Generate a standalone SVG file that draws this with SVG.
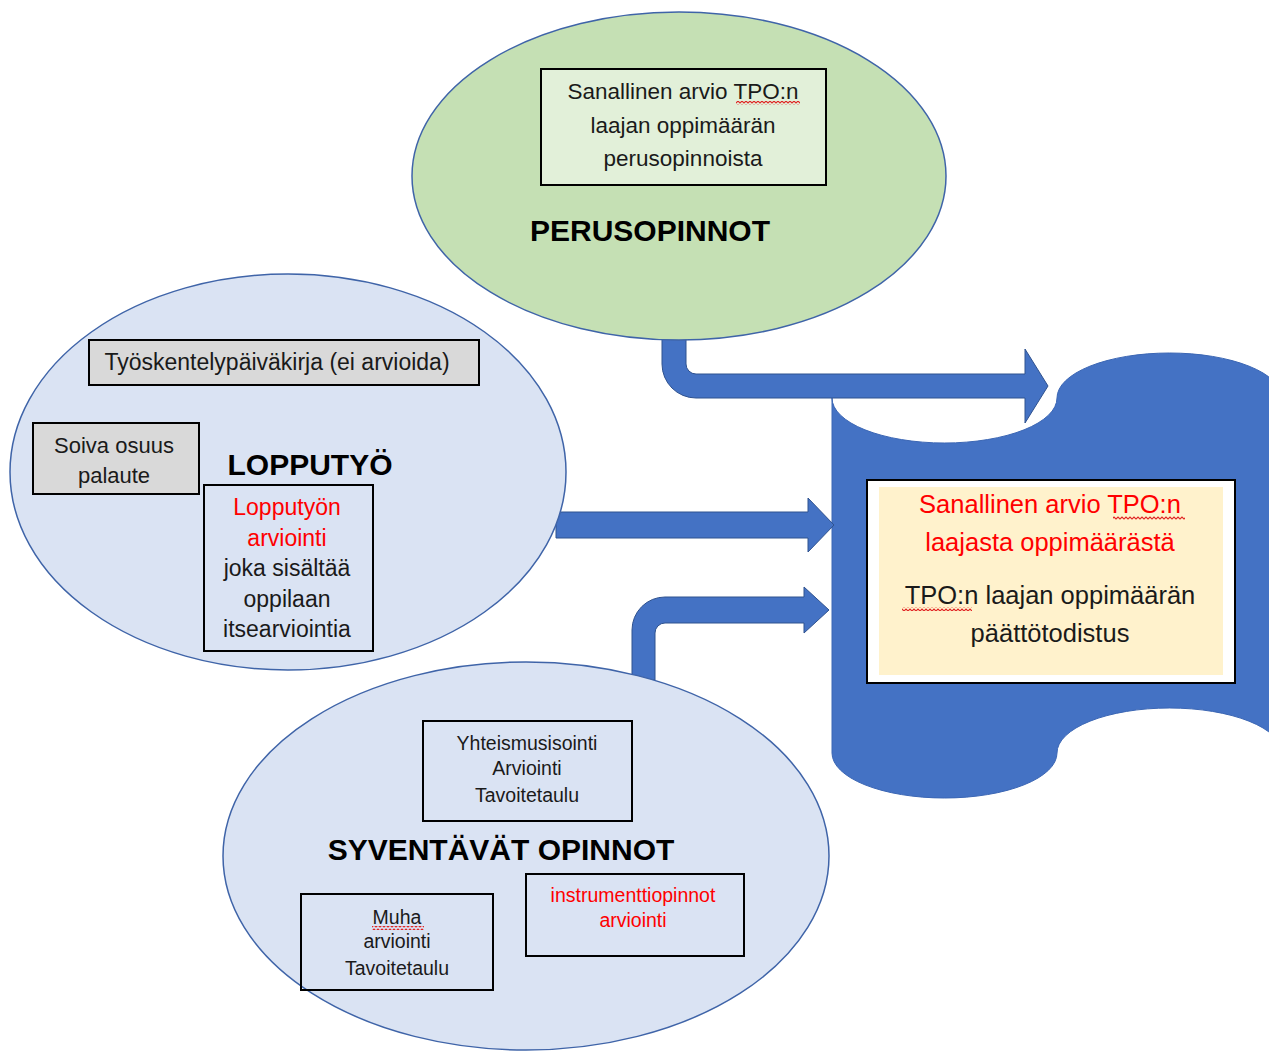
<svg xmlns="http://www.w3.org/2000/svg" width="1269" height="1052" viewBox="0 0 1269 1052">
<defs>
<style>
text{font-family:"Liberation Sans",Arial,sans-serif;fill:#1a1a1a;text-anchor:middle}
.h{font-weight:bold;font-size:30px;fill:#000}
.red{fill:#ff0000}
.ell{stroke:#3F64A8;stroke-width:1.5}
.box{stroke:#000;stroke-width:2}
.gray{fill:#D9D9D9}
.arrow{fill:#4472C4;stroke:#2F528F;stroke-width:1}
</style>
<pattern id="sq" width="4" height="4" patternUnits="userSpaceOnUse"><path d="M-2,1 L0,3 L2,1 L4,3 L6,1" fill="none" stroke="#e02020" stroke-width="1.2"/></pattern>
</defs>
<rect width="1269" height="1052" fill="#fff"/>

<g id="paattotodistus">
<path d="M832,398 A112.5,45 0 0 0 1057,398 A112.5,45 0 0 1 1282,398 L1282,753 A112.5,45 0 0 0 1057,753 A112.5,45 0 0 1 832,753 Z" fill="#4472C4" stroke="#3B66B4" stroke-width="1"/>
<rect x="867" y="480" width="368" height="203" fill="#fff" class="box"/>
<rect x="879" y="487" width="344" height="188" fill="#FFF2CC"/>
<text x="1050" y="513" font-size="25.5" class="red">Sanallinen arvio TPO:n</text>
<text x="1050" y="551" font-size="25.5" class="red">laajasta oppimäärästä</text>
<text x="1050" y="604" font-size="25.5">TPO:n laajan oppimäärän</text>
<text x="1050" y="642" font-size="25.5">päättötodistus</text>
<rect x="1113" y="516" width="72" height="4" fill="url(#sq)"/>
<rect x="902" y="607" width="70" height="4" fill="url(#sq)"/>
</g>

<g id="connectors">
<path class="arrow" d="M662,336 L662,364 A34,34 0 0 0 696,398 L1025,398 L1025,423 L1048,386 L1025,349 L1025,374 L696,374 A10,10 0 0 1 686,364 L686,336 Z"/>
<path class="arrow" d="M556,512 L808,512 L808,498 L834,525 L808,552 L808,538 L556,538 Z"/>
<path class="arrow" d="M632,680 L632,630 A33,33 0 0 1 665,597 L804,597 L804,587 L829,610 L804,633 L804,623 L665,623 A10,10 0 0 0 655,633 L655,680 Z"/>
</g>

<g id="perusopinnot">
<ellipse cx="679" cy="176" rx="267" ry="164" fill="#C5E0B4" class="ell"/>
<rect x="541" y="69" width="285" height="116" fill="#E2F0D9" class="box"/>
<text x="683" y="99" font-size="22.5">Sanallinen arvio TPO:n</text>
<text x="683" y="133" font-size="22.5">laajan oppimäärän</text>
<text x="683" y="166" font-size="22.5">perusopinnoista</text>
<rect x="736" y="101" width="64" height="4" fill="url(#sq)"/>
<text x="650" y="241" class="h">PERUSOPINNOT</text>
</g>

<g id="lopputyo">
<ellipse cx="288" cy="472" rx="278" ry="198" fill="#DAE3F3" class="ell"/>
<rect x="89" y="340" width="390" height="45" class="box gray"/>
<text x="277" y="370" font-size="23">Työskentelypäiväkirja (ei arvioida)</text>
<rect x="33" y="423" width="166" height="71" class="box gray"/>
<text x="114" y="453" font-size="22">Soiva osuus</text>
<text x="114" y="483" font-size="22">palaute</text>
<text x="310" y="475" class="h">LOPPUTYÖ</text>
<rect x="204" y="485" width="169" height="166" fill="none" class="box"/>
<text x="287" y="515" font-size="23" class="red">Lopputyön</text>
<text x="287" y="546" font-size="23" class="red">arviointi</text>
<text x="287" y="576" font-size="23">joka sisältää</text>
<text x="287" y="607" font-size="23">oppilaan</text>
<text x="287" y="637" font-size="23">itsearviointia</text>
</g>

<g id="syventavat">
<ellipse cx="526" cy="856" rx="303" ry="194" fill="#DAE3F3" class="ell"/>
<rect x="423" y="721" width="209" height="100" fill="none" class="box"/>
<text x="527" y="750" font-size="19.5">Yhteismusisointi</text>
<text x="527" y="775" font-size="19.5">Arviointi</text>
<text x="527" y="802" font-size="19.5">Tavoitetaulu</text>
<text x="501" y="860" class="h">SYVENTÄVÄT OPINNOT</text>
<rect x="301" y="894" width="192" height="96" fill="none" class="box"/>
<text x="397" y="924" font-size="19.5">Muha</text>
<text x="397" y="948" font-size="19.5">arviointi</text>
<text x="397" y="975" font-size="19.5">Tavoitetaulu</text>
<rect x="372" y="926" width="52" height="4" fill="url(#sq)"/>
<rect x="526" y="874" width="218" height="82" fill="none" class="box"/>
<text x="633" y="902" font-size="19.5" class="red">instrumenttiopinnot</text>
<text x="633" y="927" font-size="19.5" class="red">arviointi</text>
</g>
</svg>
